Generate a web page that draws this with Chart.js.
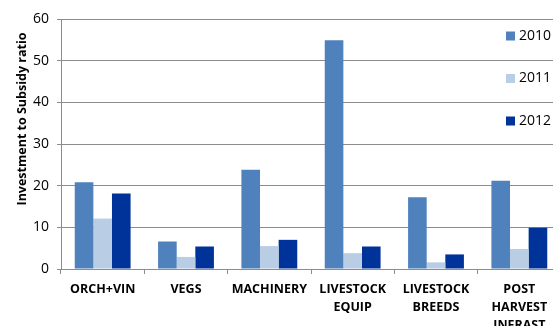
<!DOCTYPE html>
<html>
<head>
<meta charset="utf-8">
<script src="https://cdn.jsdelivr.net/npm/chart.js@4/dist/chart.umd.min.js"></script>
<style>
  html, body { margin: 0; padding: 0; background: #fff; overflow: hidden; width: 553px; height: 326px; }
  #wrap { position: absolute; left: 0; top: 0; width: 561px; height: 326px; }
  #ytitle {
    position: absolute; left: -79px; top: 111px; width: 200px; height: 16px; line-height: 16px;
    text-align: center; font: bold 12.5px "Open Sans", sans-serif; color: #000;
    transform: rotate(-90deg); transform-origin: 50% 50%; white-space: nowrap;
  }
</style>
</head>
<body>
<div id="wrap"><canvas id="chart"></canvas></div>
<div id="ytitle">Investment to Subsidy ratio</div>
<script>
// Chart data
const categories = [['ORCH+VIN'], ['VEGS'], ['MACHINERY'], ['LIVESTOCK', 'EQUIP'], ['LIVESTOCK', 'BREEDS'], ['POST', 'HARVEST', 'INFRAST']];
const years = ['2010', '2011', '2012'];
const ratio2010 = [20.8, 6.6, 23.8, 54.9, 17.2, 21.2];
const ratio2011 = [12.1, 2.9, 5.5, 3.8, 1.6, 4.8];
const ratio2012 = [18.1, 5.4, 7.0, 5.4, 3.5, 9.9];
const yTicks = [0, 10, 20, 30, 40, 50, 60];

const colors = ['#4f81bd', '#b9cde5', '#003399'];
const gridColor = '#8c8c8c';

// Legend drawn on the right, stacked, over the plot area
const sideLegend = {
  id: 'sideLegend',
  afterDraw(chart) {
    const ctx = chart.ctx;
    ctx.save();
    ctx.font = '14px "Open Sans", sans-serif';
    ctx.textBaseline = 'middle';
    ctx.textAlign = 'left';
    chart.data.datasets.forEach((ds, i) => {
      const y = 36 + i * 42.5;
      ctx.fillStyle = ds.backgroundColor;
      ctx.fillRect(506, y - 4.5, 9, 9);
      ctx.fillStyle = '#000';
      ctx.fillText(ds.label, 519, y);
    });
    ctx.restore();
  }
};

new Chart(document.getElementById('chart'), {
  type: 'bar',
  data: {
    labels: categories,
    datasets: [
      { label: years[0], data: ratio2010, backgroundColor: colors[0] },
      { label: years[1], data: ratio2011, backgroundColor: colors[1] },
      { label: years[2], data: ratio2012, backgroundColor: colors[2] },
    ],
  },
  options: {
    responsive: true,
    maintainAspectRatio: false,
    animation: false,
    layout: { padding: { top: 19, left: 0, right: 0, bottom: 0 } },
    datasets: { bar: { categoryPercentage: 0.67, barPercentage: 1.0 } },
    plugins: { legend: { display: false }, tooltip: { enabled: false } },
    scales: {
      x: {
        grid: { offset: true, drawOnChartArea: false, drawTicks: true, tickLength: 5, color: gridColor },
        border: { display: true, color: gridColor },
        ticks: { color: '#000', font: { family: '"Open Sans", sans-serif', size: 12.5, weight: 'bold', lineHeight: 1.45 }, padding: 6, maxRotation: 0, autoSkip: false },
        afterFit(scale) { scale.height = 57; },
      },
      y: {
        min: 0,
        max: 60,
        afterBuildTicks(scale) { scale.ticks = yTicks.map(v => ({ value: v })); },
        grid: { color: gridColor, tickLength: 4, drawTicks: true },
        border: { display: true, color: gridColor },
        ticks: { color: '#000', font: { family: '"Open Sans", sans-serif', size: 14 }, padding: 8 },
        afterFit(scale) { scale.width = 61; },
      },
    },
  },
  plugins: [sideLegend],
});
</script>
</body>
</html>
